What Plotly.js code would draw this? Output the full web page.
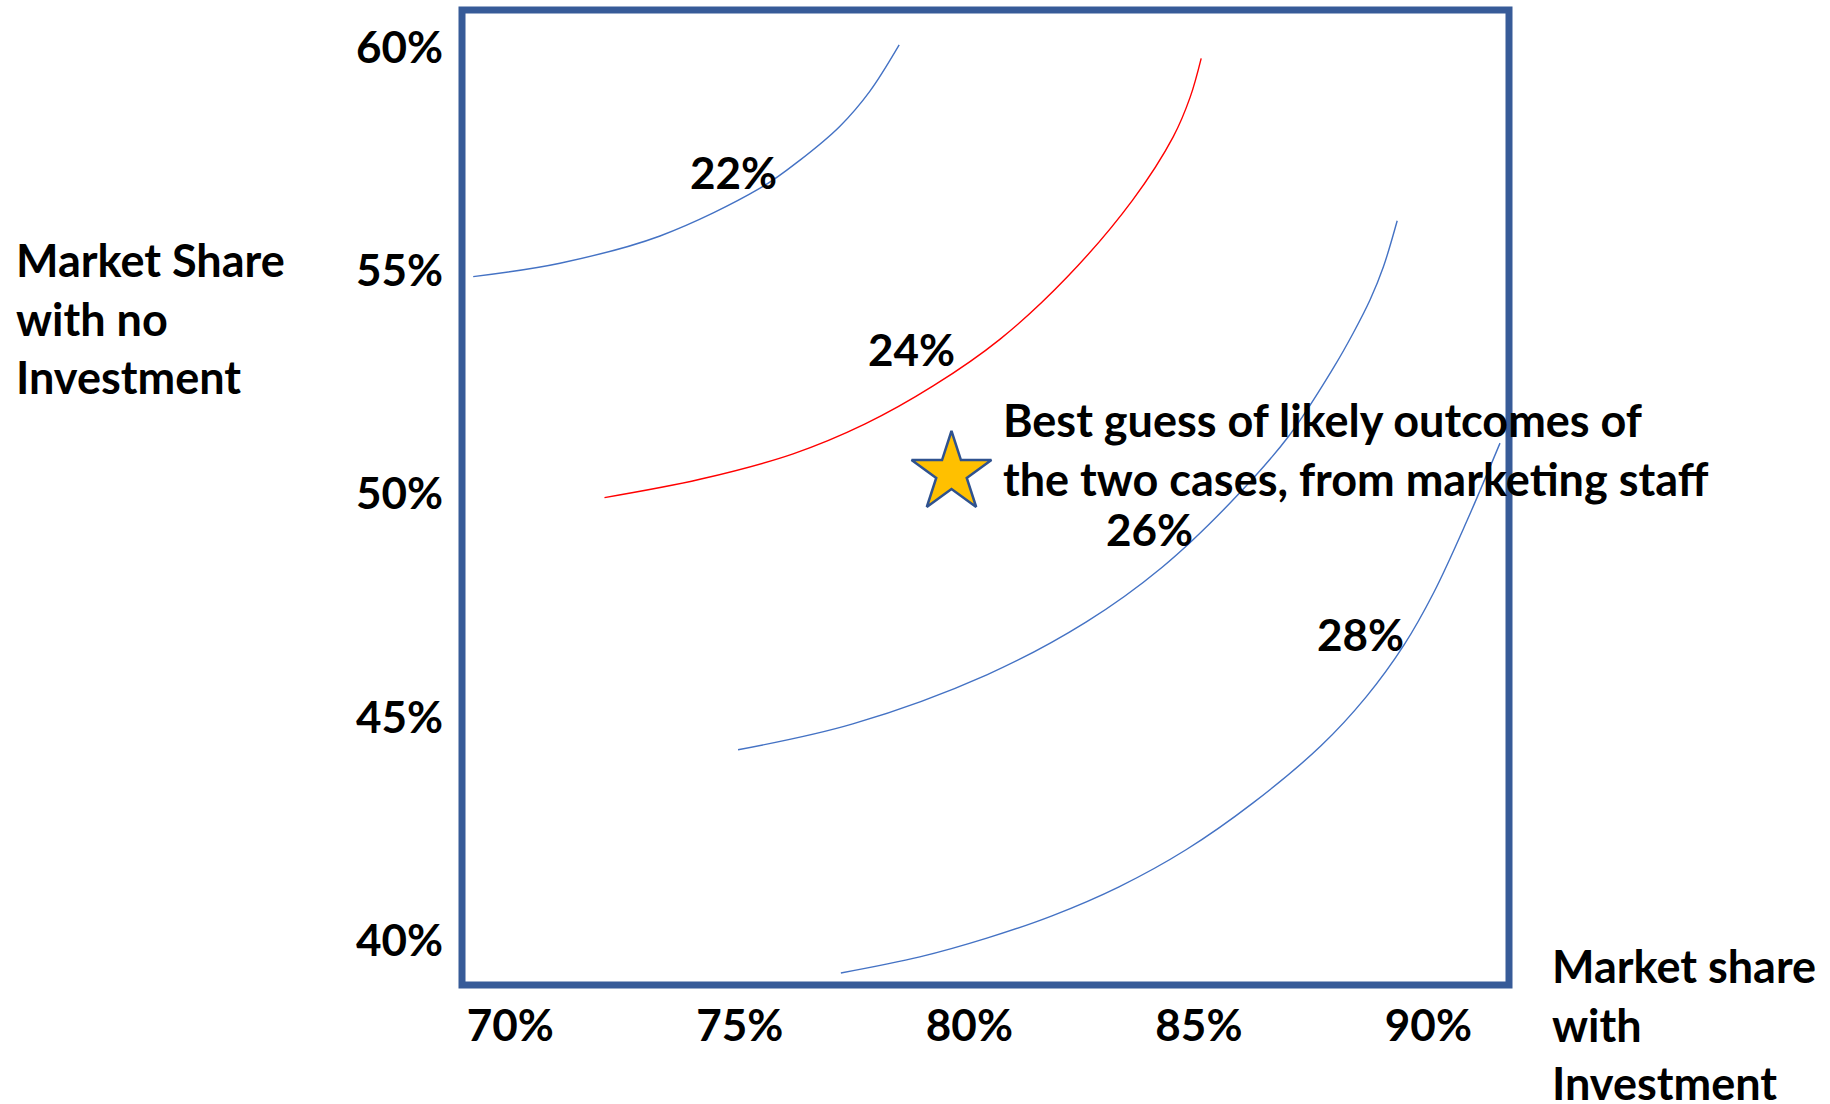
<!DOCTYPE html>
<html>
<head>
<meta charset="utf-8">
<script src="https://cdn.plot.ly/plotly-3.0.1.min.js"></script>
<style>
  html, body { margin: 0; padding: 0; background: #ffffff; }
  #chart { width: 1830px; height: 1104px; }
</style>
</head>
<body>
<div id="chart"></div>
<script>
// Axis ticks (market share, %)
const xTickVals = [70, 75, 80, 85, 90];
const xTickText = ['70%', '75%', '80%', '85%', '90%'];
const yTickVals = [40, 45, 50, 55, 60];
const yTickText = ['40%', '45%', '50%', '55%', '60%'];

// Iso-return curves: market share with investment (x) vs. without (y)
const curveNames = ['22%', '24%', '26%', '28%'];

const curve22X = [69.19, 71.08, 73.26, 75.44, 76.31, 77.18, 77.83, 78.47];
const curve22Y = [54.87, 55.17, 55.78, 56.85, 57.48, 58.24, 59.02, 60.06];

const curve24X = [72.05, 74.13, 76.16, 77.73, 79.21, 80.67, 82.13, 83.56, 84.44, 84.81, 85.05];
const curve24Y = [49.92, 50.33, 50.90, 51.57, 52.42, 53.47, 54.86, 56.59, 58.00, 58.89, 59.76];

const curve26X = [74.96, 77.46, 80.38, 82.54, 84.20, 85.70, 86.96, 87.94, 88.36, 88.73, 89.02, 89.32];
const curve26Y = [44.27, 44.85, 45.95, 47.13, 48.36, 49.82, 51.30, 52.84, 53.60, 54.35, 55.09, 56.12];

const curve28X = [77.20, 78.92, 80.38, 81.80, 83.26, 84.72, 86.18, 87.66, 88.64, 89.47, 90.12, 90.84, 91.56];
const curve28Y = [39.27, 39.63, 40.05, 40.55, 41.20, 42.03, 43.08, 44.36, 45.45, 46.62, 47.80, 49.40, 51.14];

// Marketing staff's best guess (with investment, without investment)
const bestGuessX = [79.61];
const bestGuessY = [50.47];

const BLUE = '#4472C4';
const RED = '#FF0000';
const FRAME = '#375B98';
const FAMILY = 'Lato, "Open Sans", sans-serif';
const FONT = { family: FAMILY, size: 44, color: '#000000', weight: 'bold' };
const TEXT_FONT = { family: FAMILY, size: 45, color: '#000000', weight: 'bold' };

function curveTrace(xs, ys, name, color) {
  return {
    type: 'scatter', mode: 'lines', name: name,
    x: xs, y: ys,
    line: { color: color, width: 1.4, shape: 'spline', smoothing: 1 },
    hoverinfo: 'skip'
  };
}

const traces = [
  curveTrace(curve22X, curve22Y, curveNames[0], BLUE),
  curveTrace(curve24X, curve24Y, curveNames[1], RED),
  curveTrace(curve26X, curve26Y, curveNames[2], BLUE),
  curveTrace(curve28X, curve28Y, curveNames[3], BLUE),
  {
    type: 'scatter', mode: 'markers', name: 'Best guess',
    x: bestGuessX, y: bestGuessY,
    marker: { symbol: 'star', size: 60, color: '#FFC000', line: { color: '#2F528F', width: 2.5 } },
    hoverinfo: 'skip'
  }
];

function label(text, x, y) {
  return { text: text, x: x, y: y, xref: 'x', yref: 'y', showarrow: false,
           xanchor: 'center', yanchor: 'middle', font: FONT };
}

const layout = {
  width: 1830, height: 1104,
  margin: { l: 462, r: 321, t: 10, b: 119, pad: 0 },
  paper_bgcolor: '#ffffff', plot_bgcolor: '#ffffff',
  showlegend: false,
  font: FONT,
  xaxis: {
    range: [68.946, 91.756], tickvals: xTickVals, ticktext: xTickText,
    showgrid: false, zeroline: false, showline: false, ticks: '',
    ticklabelstandoff: 11, tickfont: FONT, fixedrange: true
  },
  yaxis: {
    range: [39.001, 60.842], tickvals: yTickVals, ticktext: yTickText,
    showgrid: false, zeroline: false, showline: false, ticks: '',
    ticklabelstandoff: 18, tickfont: FONT, fixedrange: true
  },
  shapes: [{
    type: 'rect', xref: 'paper', yref: 'paper', x0: 0, x1: 1, y0: 0, y1: 1,
    line: { color: FRAME, width: 7 }, fillcolor: 'rgba(0,0,0,0)', layer: 'above'
  }],
  annotations: [
    label(curveNames[0], 74.85, 57.22),
    label(curveNames[1], 78.73, 53.25),
    label(curveNames[2], 83.93, 49.22),
    label(curveNames[3], 88.53, 46.86),
    {
      text: 'Best guess of likely outcomes of<br>the two cases, from marketing staff',
      x: 80.69, y: 50.99, xref: 'x', yref: 'y', showarrow: false,
      xanchor: 'left', yanchor: 'middle', align: 'left', font: TEXT_FONT
    },
    {
      text: 'Market Share<br>with no<br>Investment',
      x: -0.4282, y: 0.6839, xref: 'paper', yref: 'paper', showarrow: false,
      xanchor: 'left', yanchor: 'middle', align: 'left', font: TEXT_FONT
    },
    {
      text: 'Market share<br>with<br>Investment',
      x: 1.0387, y: -0.0406, xref: 'paper', yref: 'paper', showarrow: false,
      xanchor: 'left', yanchor: 'middle', align: 'left', font: TEXT_FONT
    }
  ]
};

Plotly.newPlot('chart', traces, layout, { displayModeBar: false, staticPlot: true });
</script>
</body>
</html>
